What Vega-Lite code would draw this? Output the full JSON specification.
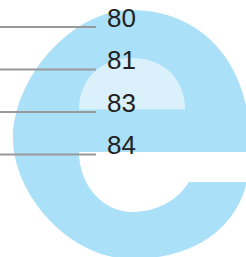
{
  "$schema": "https://vega.github.io/schema/vega-lite/v6.json",
  "width": 246,
  "height": 257,
  "padding": 0,
  "autosize": "none",
  "background": "white",
  "config": {"view": {"stroke": null}},
  "datasets": {
    "rows": [
      {"rank": 1, "value": 80},
      {"rank": 2, "value": 81},
      {"rank": 3, "value": 83},
      {"rank": 4, "value": 84}
    ],
    "icon": [{"glyph": "e"}]
  },
  "layer": [
    {
      "data": {"name": "icon"},
      "mark": {"type": "point", "shape": "M0.9231,0.1385L-0.3923,0.1385C-0.3923,0.3923,-0.21,0.6,0.0154,0.6C0.1692,0.6,0.3462,0.5385,0.4538,0.3692L0.9,0.3692C0.8077,0.7538,0.4615,0.9615,0.0154,0.9615C-0.4615,0.9615,-0.9,0.4692,-0.9,0.0308C-0.9,-0.4154,-0.4615,-0.9538,0.0154,-0.9538C0.5,-0.9538,0.9077,-0.6077,0.9231,0.0462Z", "filled": true, "opacity": 1, "color": "#abe0f9", "strokeWidth": 0, "size": 67600},
      "encoding": {
        "x": {"datum": 130, "type": "quantitative", "scale": {"domain": [0, 246], "nice": false, "zero": false}, "axis": null},
        "y": {"datum": 3.5176, "type": "quantitative", "scale": {"domain": [0.3647, 6.412], "reverse": true, "nice": false, "zero": false}, "axis": null}
      }
    },
    {
      "data": {"name": "icon"},
      "mark": {"type": "point", "shape": "M-0.3923,-0.1885C-0.3923,-0.4154,-0.2308,-0.5846,0.0154,-0.5846C0.2692,-0.5846,0.4231,-0.4154,0.4231,-0.1885Z", "filled": true, "opacity": 1, "color": "#daf1fc", "strokeWidth": 0, "size": 67600},
      "encoding": {
        "x": {"datum": 130, "type": "quantitative"},
        "y": {"datum": 3.5176, "type": "quantitative"}
      }
    },
    {
      "data": {"name": "rows"},
      "mark": {"type": "rule", "color": "#999999", "strokeWidth": 2},
      "encoding": {
        "x": {"datum": 0, "type": "quantitative"},
        "x2": {"datum": 96},
        "y": {"field": "rank", "type": "quantitative"}
      }
    },
    {
      "data": {"name": "rows"},
      "mark": {"type": "text", "font": "Liberation Sans", "fontSize": 26, "align": "left", "baseline": "alphabetic", "color": "#222222"},
      "encoding": {
        "x": {"datum": 107, "type": "quantitative"},
        "y": {"field": "rank", "type": "quantitative"},
        "text": {"field": "value", "type": "nominal"}
      }
    }
  ]
}
